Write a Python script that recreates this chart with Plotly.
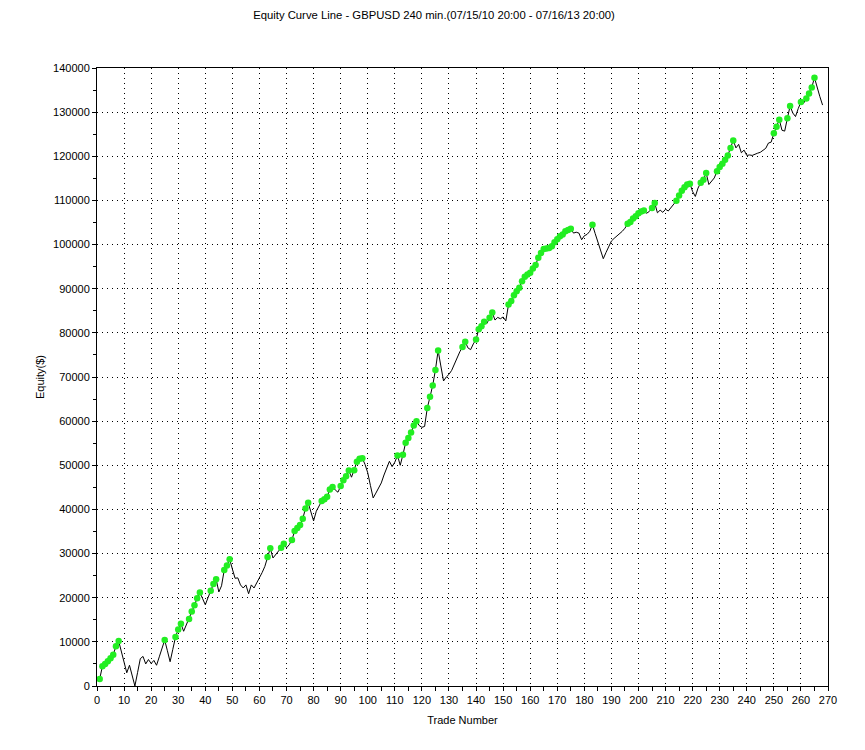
import numpy as np
import plotly.graph_objects as go

title_text = "Equity Curve Line - GBPUSD 240 min.(07/15/10 20:00 - 07/16/13 20:00)"
x_title = "Trade Number"
y_title = "Equity($)"

trades = list(range(1, 269))
equity = [
    1600, 4500, 5000, 5600, 6300, 7100, 9000, 10200, 7700, 5300,          # 1-10
    3000, 4700, 2300, 0, 3100, 6200, 6700, 5000, 6000, 5100,             # 11-20
    5800, 4700, 6600, 8500, 10400, 8000, 5500, 8300, 11100, 12800,       # 21-30
    14100, 12400, 13800, 15200, 16900, 18300, 19900, 21200, 19800, 18400,  # 31-40
    20000, 21600, 23100, 24200, 21300, 22700, 26300, 27300, 28700, 26500,  # 41-50
    24400, 24500, 22900, 22200, 22900, 20900, 22900, 22200, 23300, 24400,  # 51-60
    25700, 27100, 29200, 31200, 29000, 29700, 30400, 31300, 32200, 31300,  # 61-70
    32000, 33100, 35100, 35800, 36500, 37900, 40200, 41500, 39400, 37400,  # 71-80
    39600, 40800, 41900, 42300, 42900, 44500, 45100, 44400, 43900, 45300,  # 81-90
    46600, 47500, 48800, 47300, 48900, 50800, 51500, 51600, 50200, 48300,  # 91-100
    45400, 42600, 43700, 44700, 46000, 47800, 49500, 50900, 49700, 50700,  # 101-110
    52200, 50000, 52400, 55100, 56200, 57400, 59000, 60000, 59000, 58600,  # 111-120
    58800, 63000, 65500, 68100, 71600, 76000, 72500, 69100, 70000, 70600,  # 121-130
    71500, 73000, 74300, 75700, 76800, 78000, 76600, 76200, 77500, 78500,  # 131-140
    80800, 81500, 82500, 82100, 83400, 84600, 82900, 83500, 83200, 83600,  # 141-150
    82700, 86400, 87200, 88500, 89400, 90200, 91700, 92700, 93200, 93600,  # 151-160
    94600, 95400, 97000, 98100, 99000, 99100, 99200, 99600, 100500, 101200,  # 161-170
    101900, 102300, 103000, 103300, 103600, 102600, 102800, 102600, 101100, 102000,  # 171-180
    102300, 103000, 104500, 102500, 100500, 98500, 96800, 98200, 99500, 100800,  # 181-190
    101400, 101900, 102400, 103000, 103700, 104700, 105100, 105900, 106400, 107100,  # 191-200
    107500, 107700, 107100, 107500, 108300, 109400, 107200, 107800, 107300, 108000,  # 201-210
    107600, 108400, 109000, 109900, 111100, 112200, 113000, 113600, 113800, 112000,  # 211-220
    110900, 112800, 114000, 114700, 116200, 113600, 114400, 115100, 116600, 117600,  # 221-230
    118300, 119200, 120200, 121900, 123600, 121900, 122700, 120800, 121400, 120200,  # 231-240
    120300, 120200, 120500, 120700, 120900, 121300, 121800, 123000, 123200, 125200,  # 241-250
    126700, 128300, 125900, 125700, 128600, 131400, 129800, 129000, 130800, 132300,  # 251-260
    132000, 133100, 134200, 135600, 137800, 135500, 133500, 131600,              # 261-268
]

x_ticks = list(range(0, 271, 10))
y_ticks = list(range(0, 140001, 10000))

eq = np.array(equity)
prev_max = np.maximum.accumulate(np.concatenate([[-np.inf], eq[:-1]]))
is_high = eq > prev_max
hx = [t for t, h in zip(trades, is_high) if h]
hy = [v for v, h in zip(equity, is_high) if h]

fig = go.Figure()
fig.add_trace(go.Scatter(
    x=trades, y=equity, mode="lines",
    line=dict(color="black", width=1),
    showlegend=False, hoverinfo="skip", cliponaxis=False,
))
fig.add_trace(go.Scatter(
    x=hx, y=hy, mode="markers",
    marker=dict(color="#22EE22", size=6.5, line=dict(width=0)),
    showlegend=False, cliponaxis=False,
))

font_family = "Liberation Sans, Arial, sans-serif"
axis_common = dict(
    showline=True, linecolor="black", linewidth=1, mirror=True,
    showgrid=True, gridcolor="black", gridwidth=1, griddash="1px,4px",
    zeroline=False, ticks="outside", ticklen=4, tickcolor="black",
    tickfont=dict(family=font_family, size=11, color="black"),
)

W, H = 857, 742
fig.update_layout(
    width=W, height=H,
    margin=dict(l=89, r=37, t=60, b=64),
    paper_bgcolor="white", plot_bgcolor="white",
    font=dict(family=font_family, size=11, color="black"),
    title=dict(text=title_text, x=426 / W, xref="container", xanchor="center",
               y=1 - 7 / H, yref="container", yanchor="middle",
               font=dict(family=font_family, size=11.3, color="black")),
    xaxis=dict(range=[0, 270], tickvals=x_ticks, ticktext=[str(v) for v in x_ticks],
               title=dict(text=x_title, font=dict(family=font_family, size=11), standoff=11),
               minor=dict(dtick=5, ticks="outside", ticklen=4, tickcolor="black", showgrid=False),
               **axis_common),
    yaxis=dict(range=[0, 140000], tickvals=y_ticks, ticktext=[str(v) for v in y_ticks],
               title=dict(text=y_title, font=dict(family=font_family, size=11), standoff=6),
               minor=dict(dtick=5000, ticks="outside", ticklen=3, tickcolor="black", showgrid=False),
               **axis_common),
)

fig.write_html("out.html")
